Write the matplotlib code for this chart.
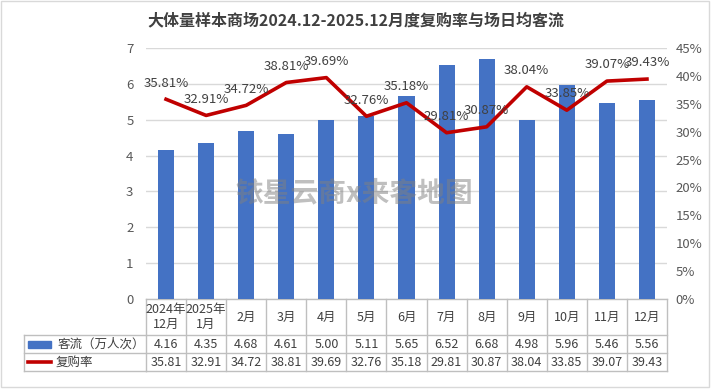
import matplotlib
matplotlib.use("Agg")
import matplotlib.pyplot as plt
import matplotlib.transforms as mtransforms
from matplotlib.patches import Rectangle
from matplotlib.lines import Line2D

plt.rcParams['font.family'] = ['Noto Sans CJK SC', 'DejaVu Sans']

# 数据
months = ["2024年\n12月", "2025年\n1月", "2月", "3月", "4月", "5月", "6月",
          "7月", "8月", "9月", "10月", "11月", "12月"]
flow = [4.16, 4.35, 4.68, 4.61, 5.00, 5.11, 5.65, 6.52, 6.68, 4.98, 5.96, 5.46, 5.56]
rate = [35.81, 32.91, 34.72, 38.81, 39.69, 32.76, 35.18, 29.81, 30.87, 38.04, 33.85, 39.07, 39.43]
flow_name = "客流（万人次）"
rate_name = "复购率"
title = "大体量样本商场2024.12-2025.12月度复购率与场日均客流"
watermark = "铱星云商x来客地图"

W, H = 711, 389
blue = "#4472C4"
red = "#C00000"
txt = "#404040"
tick = "#595959"
grid = "#D9D9D9"
border = "#BFBFBF"

fig = plt.figure(figsize=(W / 100, H / 100), dpi=100)
fig.patch.set_facecolor("white")

# 背景层，像素坐标
ov = fig.add_axes([0, 0, 1, 1], zorder=-1)
ov.set_xlim(0, W)
ov.set_ylim(H, 0)
ov.axis("off")
ov.add_patch(Rectangle((1, 1), W - 3, H - 3, fill=False, ec="#D9D9D9", lw=1))

ax = fig.add_axes([146 / W, 1 - 299 / H, (667 - 146) / W, (299 - 48) / H])
ax.patch.set_alpha(0)
x = list(range(len(months)))
ax.bar(x, flow, width=0.4, color=blue, zorder=2)
ax.set_xlim(-0.5, len(months) - 0.5)
ax.set_ylim(0, 7)
ax.set_yticks(range(0, 8))
ax.yaxis.grid(True, color=grid, lw=1)
ax.set_axisbelow(True)
ax.set_xticks([])
for s in ax.spines.values():
    s.set_visible(False)
ax.tick_params(axis="y", length=0, pad=9, labelsize=9.5, labelcolor=tick)

ax2 = ax.twinx()
ax2.plot(x, rate, color=red, lw=2.6, solid_joinstyle="round", zorder=3)
ax2.set_ylim(0, 45)
ax2.set_yticks(range(0, 50, 5))
ax2.set_yticklabels([f"{v}%" for v in range(0, 50, 5)])
for s in ax2.spines.values():
    s.set_visible(False)
ax2.tick_params(axis="y", length=0, pad=6, labelsize=9.5, labelcolor=tick)
for xi, r in zip(x, rate):
    ax2.annotate(f"{r:.2f}%", (xi, r), xytext=(0, 7), textcoords="offset points",
                 ha="center", va="bottom", fontsize=9.5, color=txt)

fig.text(0.5, 1 - 20 / H, title, ha="center", va="center", fontsize=11.5,
         fontweight="bold", color=txt)

# 表格
tr = mtransforms.blended_transform_factory(ax.transData, ov.transData)
top, hdr, r1, r2 = 299, 335, 353, 371
lx = 24
xl, xr = -0.5, len(months) - 0.5
for yy in (hdr, r1, r2):
    ov.plot([lx, 146], [yy, yy], color=border, lw=1)
    ov.plot([xl, xr], [yy, yy], color=border, lw=1, transform=tr)
ov.plot([xl, xr], [top, top], color=border, lw=1, transform=tr)
ov.plot([lx, lx], [hdr, r2], color=border, lw=1)
for i in range(len(months) + 1):
    ov.plot([i - 0.5, i - 0.5], [top, r2], color=border, lw=1, transform=tr)

for i, m in enumerate(months):
    ov.text(i, (top + hdr) / 2, m, transform=tr, ha="center", va="center",
            fontsize=9, color=txt, linespacing=1.25)
    ov.text(i, (hdr + r1) / 2, f"{flow[i]:.2f}", transform=tr, ha="center",
            va="center", fontsize=9, color=txt)
    ov.text(i, (r1 + r2) / 2, f"{rate[i]:.2f}", transform=tr, ha="center",
            va="center", fontsize=9, color=txt)

ov.add_patch(Rectangle((28, (hdr + r1) / 2 - 3), 23, 7, color=blue))
ov.text(58, (hdr + r1) / 2, flow_name, ha="left", va="center", fontsize=9, color=txt)
ov.add_line(Line2D([28, 51], [(r1 + r2) / 2] * 2, color=red, lw=2.6))
ov.text(56, (r1 + r2) / 2, rate_name, ha="left", va="center", fontsize=9, color=txt)

fig.text(354 / W, 1 - 193 / H, watermark, ha="center", va="center", fontsize=20,
         fontweight="bold", color="#808080", alpha=0.5, zorder=10)

fig.savefig("out.png", dpi=100)
